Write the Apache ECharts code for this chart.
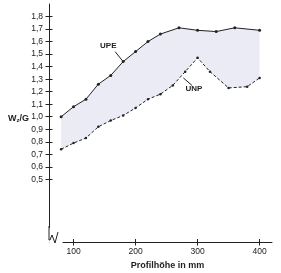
<!DOCTYPE html>
<html><head><meta charset="utf-8">
<script src="https://cdn.jsdelivr.net/npm/echarts@6/dist/echarts.min.js"></script>
<style>html,body{margin:0;padding:0;background:#fff}#c{width:281px;height:273px}</style>
</head><body><div id="c"></div>
<script>
var upeX = [80,100,120,140,160,180,200,220,240,270,300,330,360,400];
var upeY = [1.00,1.08,1.14,1.26,1.33,1.44,1.52,1.60,1.66,1.71,1.69,1.68,1.71,1.69];
var unpX = [80,100,120,140,160,180,200,220,240,260,280,300,320,350,380,400];
var unpY = [0.74,0.79,0.83,0.92,0.97,1.01,1.07,1.14,1.18,1.25,1.36,1.47,1.36,1.23,1.24,1.31];
var yTicks = [0.5,0.6,0.7,0.8,0.9,1.0,1.1,1.2,1.3,1.4,1.5,1.6,1.7,1.8];
var xTicks = [100,200,300,400];
var annotations = [
  {text:'UPE', label:[156,1.565], from:[167,1.52], to:[180,1.44]},
  {text:'UNP', label:[294,1.22], from:[277,1.31], to:[291,1.25]}
];

var upe = upeX.map(function(x,i){return [x,upeY[i]];});
var unp = unpX.map(function(x,i){return [x,unpY[i]];});
var band = upe.concat(unp.slice().reverse());
var font = 'Liberation Sans, Arial, sans-serif';

var chart = echarts.init(document.getElementById('c'), null, {renderer:'canvas'});
var tickFmt = function(v){return v.toFixed(1).replace('.',',');};
chart.setOption({
  animation:false,
  grid:{left:63,right:9,top:4,bottom:31,containLabel:false,outerBoundsMode:'none'},
  xAxis:[{
    type:'value', min:83, max:420,
    axisLine:{show:true,lineStyle:{color:'#222',width:1}},
    axisTick:{show:true,length:3.5,customValues:xTicks,lineStyle:{color:'#222'}},
    axisLabel:{customValues:xTicks,margin:5,fontSize:8.5,color:'#222',fontFamily:font},
    splitLine:{show:false},
    name:'Profilhöhe in mm', nameLocation:'middle', nameGap:19, nameMoveOverlap:false,
    nameTextStyle:{fontSize:9,fontWeight:'bold',color:'#222',fontFamily:font}
  },{
    type:'value', min:83, max:420, position:'bottom',
    axisLine:{show:false},
    axisTick:{show:true,inside:true,length:3,customValues:xTicks,lineStyle:{color:'#222'}},
    axisLabel:{show:false}, splitLine:{show:false}
  }],
  yAxis:[{
    type:'value', min:0, max:1.9, offset:14,
    axisLine:{show:true,lineStyle:{color:'#222',width:1}},
    axisTick:{show:true,length:3.5,customValues:yTicks,lineStyle:{color:'#222'}},
    axisLabel:{customValues:yTicks,formatter:tickFmt,margin:6,fontSize:8.5,color:'#222',fontFamily:font},
    splitLine:{show:false},
    name:'{a|W}{s|z}{a|/G}', nameLocation:'middle', nameRotate:0, nameGap:20, nameMoveOverlap:false,
    nameTextStyle:{align:'right',padding:[0,0,12,0],rich:{
      a:{fontSize:9,fontWeight:'bold',color:'#222',fontFamily:font,verticalAlign:'bottom',lineHeight:12},
      s:{fontSize:6,fontWeight:'bold',color:'#222',fontFamily:font,verticalAlign:'bottom',lineHeight:10}
    }}
  },{
    type:'value', min:0, max:1.9, offset:14, position:'left',
    axisLine:{show:false},
    axisTick:{show:true,inside:true,length:3.5,customValues:yTicks,lineStyle:{color:'#222'}},
    axisLabel:{show:false}, splitLine:{show:false}
  }],
  graphic:[{
    type:'polyline', z:100,
    shape:{points:[[49,228],[49,240],[50,240],[52,235],[55,243],[58,232]]},
    style:{stroke:'#fff',lineWidth:5,fill:null}
  },{
    type:'polyline', z:101,
    shape:{points:[[49,226],[49,240],[50,240],[52,235],[55,243],[58,232]]},
    style:{stroke:'#222',lineWidth:1,fill:null}
  }],
  series:[{
    type:'custom', z:1, silent:true, clip:false,
    data:[[upeX[0],upeY[0]]],
    renderItem:function(params,api){
      return {type:'polygon',shape:{points:band.map(function(p){return api.coord(p);})},
        style:{fill:'#ebebf6',stroke:null}};
    }
  },{
    type:'line', name:'UPE', data:upe, z:3, clip:false,
    symbol:'circle', symbolSize:3,
    lineStyle:{color:'#222',width:1}, itemStyle:{color:'#222'}
  },{
    type:'line', name:'UNP', data:unp, z:3, clip:false,
    symbol:'circle', symbolSize:2.5,
    lineStyle:{color:'#222',width:1,type:[3,2]}, itemStyle:{color:'#222'}
  },{
    type:'custom', z:4, silent:true, clip:false,
    data:annotations.map(function(a){return a.label;}),
    renderItem:function(params,api){
      var a = annotations[params.dataIndex];
      var p = api.coord(a.label), f = api.coord(a.from), t = api.coord(a.to);
      return {type:'group',children:[
        {type:'line',shape:{x1:f[0],y1:f[1],x2:t[0],y2:t[1]},style:{stroke:'#222',lineWidth:1}},
        {type:'text',x:p[0],y:p[1],style:{text:a.text,fill:'#222',font:'bold 8px '+font,textAlign:'center',textVerticalAlign:'middle'}}
      ]};
    }
  }]
});
</script></body></html>
